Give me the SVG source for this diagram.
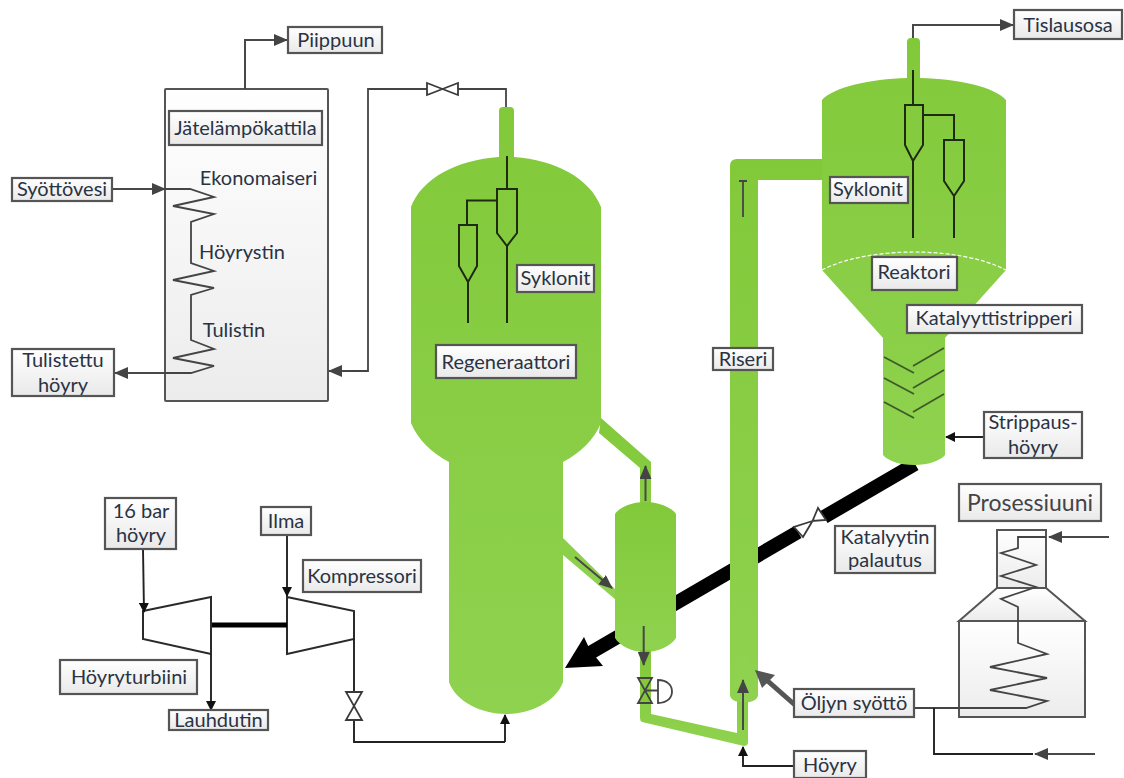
<svg xmlns="http://www.w3.org/2000/svg" width="1124" height="778" viewBox="0 0 1124 778">
<style>
text{font-family:"Lato","Liberation Sans",sans-serif;font-size:20px;fill:#2a3344;text-anchor:middle}
.lab{fill:url(#box);stroke:#555;stroke-width:2.2}
.vessel{fill:url(#green)}
.equip{fill:url(#equip);stroke:#555;stroke-width:2}
.ln{fill:none;stroke:#444;stroke-width:1.8}
.blk{fill:none;stroke:#222;stroke-width:1.9}
.cyc{fill:none;stroke:#1f2a12;stroke-width:2}
.ar{fill:none;stroke:#484848;stroke-width:2;marker-end:url(#head)}
.arb{fill:none;stroke:#222;stroke-width:1.9;marker-end:url(#headb)}
.vlv{fill:#fff;stroke:#3a3a3a;stroke-width:1.8}
</style>
<defs>
<linearGradient id="box" x1="0" y1="0" x2="0" y2="1"><stop offset="0" stop-color="#fff"/><stop offset="1" stop-color="#e9e9e9"/></linearGradient>
<linearGradient id="equip" x1="0" y1="0" x2="0" y2="1"><stop offset="0" stop-color="#fff"/><stop offset="1" stop-color="#ececec"/></linearGradient>
<linearGradient id="green" x1="0" y1="0" x2="0" y2="1"><stop offset="0" stop-color="#82c93a"/><stop offset="1" stop-color="#8fd24f"/></linearGradient>
<marker id="head" viewBox="0 0 14 12" refX="13" refY="6" markerWidth="14" markerHeight="12" markerUnits="userSpaceOnUse" orient="auto"><path d="M0 0L14 6L0 12Z" fill="#444"/></marker>
<marker id="headb" viewBox="0 0 10 10" refX="9" refY="5" markerWidth="10" markerHeight="10" markerUnits="userSpaceOnUse" orient="auto"><path d="M0 0L10 5L0 10Z" fill="#111"/></marker>
</defs>

<g id="vessels">
<path id="catalyst-return" d="M915 464L824 517M798 532L578 660" fill="none" stroke="#000" stroke-width="14"/>
<path d="M565 668L584 637L590 650L603 666Z" fill="#000"/>
<path id="regenerator" class="vessel" d="M499 157V111Q499 107 503 107H510Q514 107 514 111V157C555 160 590 178 601 207V423C594 440 580 453 563 462V682C556 702 530 714 506 714C482 714 456 702 449 682V462C432 453 418 440 411 423V207C422 178 457 160 499 157Z"/>
<path id="standpipes" class="vessel" d="M601 418L651 462V505H640V468L599 433ZM563 538L616 590V600L563 555Z"/>
<path id="stripper-vessel" class="vessel" d="M615 514C620 507 632 502 645 502C658 502 671 507 676 514V638C671 646 658 652 645 652C632 652 620 646 615 638Z"/>
<path id="lift-line" class="vessel" d="M640 650H651V714L737 733V690H748V742Q748 746 744 746L642 722Q640 721 640 718Z"/>
<path id="riser" class="vessel" d="M730 695V166Q730 159 737 159H826Q832 159 832 170Q832 180 826 180H758V695Q758 700 750 702H738Q730 700 730 695Z"/>
<rect x="737" y="655" width="12" height="46" rx="4" fill="#8fd24f"/>
<path id="reactor" class="vessel" d="M907 78V42Q907 38 911 38H916Q920 38 920 42V78C960 79 994 87 1006 100V270L945 338V455C940 461 928 465 914 465C900 465 888 461 883 455V338L822 270V100C834 87 870 79 907 78Z"/>
<path d="M822 270C845 258 880 252 914 252C948 252 983 258 1006 270" fill="none" stroke="#fff" stroke-width="1.2" stroke-dasharray="4 2"/>
</g>

<g id="catalyst-valve">
<path class="vlv" d="M812.500 521L794 527L803 537ZM812.500 521L818 508L826 520Z"/>
</g>

<g id="boiler">
<rect class="equip" x="165" y="89" width="163" height="312" rx="1"/>
<path class="ln" d="M165 189H190L214 197L173 206L214 214L191 222V263L214 271L173 280L214 288L191 295V340L214 349L173 358L214 366L191 373H165"/>
</g>

<g id="furnace">
<path class="equip" d="M997 588H1046L1085 621H959Z"/>
<rect class="equip" x="959" y="621" width="126" height="96"/>
<rect class="equip" x="997" y="530" width="49" height="58"/>
<path class="ln" d="M1046 537H1018V548L1001 553L1036 565L1001 576L1036 587L1001 599L1018 607V643L1047 654L990 667L1047 678L990 690L1047 701L1026 708H914"/>
</g>

<g id="turbine">
<path d="M143 611L211 597V654L143 639Z" fill="#fff" stroke="#2a2a2a" stroke-width="2"/>
</g>
<g id="compressor">
<path d="M287 597L354 611V639L287 654Z" fill="#fff" stroke="#2a2a2a" stroke-width="2"/>
</g>

<g id="connectors">
<path d="M212 625H287" fill="none" stroke="#000" stroke-width="5"/>
<path class="ar" d="M245 89V40H287"/>
<path class="ar" d="M112 189H165"/>
<path class="ar" d="M165 373H115"/>
<path class="ln" d="M506 107V89H458M427 89H368V371H340"/>
<path class="ar" d="M345 371H329"/>
<path class="ar" d="M913 38V25H1013"/>
<path class="arb" d="M143 549L144 612"/>
<path class="arb" d="M287 535V596"/>
<path class="arb" d="M211 654V710"/>
<path class="blk" d="M354 639V692M354 720V742H505"/>
<path class="arb" d="M505 742V715"/>
<path class="ar" d="M645.500 501V466"/>
<path class="ar" d="M575 557L612 588"/>
<path class="ar" d="M643.700 626V665"/>
<path class="ln" d="M743 217V181"/>
<path d="M739 181H747" stroke="#444" stroke-width="2"/>
<path class="ar" d="M743 730V680"/>
<path class="arb" d="M794 766H743V747"/>
<path d="M795 705L761 675" fill="none" stroke="#555" stroke-width="5"/>
<path d="M755 670L775 675L762 688Z" fill="#555"/>
<path class="arb" d="M984 437H946" stroke-width="2.6"/>
<path class="ar" d="M1109 537H1049"/>
<path class="blk" d="M934 708V754H1033"/>
<path class="ar" d="M1095 754H1035"/>
</g>

<g id="valves">
<path class="vlv" d="M427 83L458 95V83L427 95Z"/>
<path class="vlv" d="M346 692H362L346 720H362Z"/>
<path d="M638 678H652L638 703H652Z" fill="#84c93a" stroke="#444" stroke-width="1.8"/>
<path d="M645 690.500H658M658 680C667 680 672 685 672 691.500C672 698 667 703 658 703Z" fill="none" stroke="#444" stroke-width="1.8"/>
</g>

<g id="cyclones">
<path class="cyc" d="M507 156V189M497 189H517V233L507 246L497 233ZM507 246V323M497 200.500H467V225M459 225H477V266L468 282L459 266ZM468 282V323"/>
<path class="cyc" d="M913 70V105M905 105H923V145L913 161L905 145ZM913 161V238M923 115H954V140M944 140H964V181L954 196L944 181ZM954 196V238"/>
<path d="M884 357L914 373M913 366L944 348M884 378L914 394M913 388L944 370M884 402L914 418M913 412L944 394" fill="none" stroke="#3f5a2a" stroke-width="1.8"/>
</g>

<g id="piippuun"><rect class="lab" x="288" y="27" width="94" height="26"/><text x="336" y="47">Piippuun</text></g>
<g id="jatelampokattila"><rect class="lab" x="169" y="111" width="153" height="34"/><text x="245.500" y="135">Jätelämpökattila</text></g>
<g id="syottovesi"><rect class="lab" x="12" y="178" width="100" height="23"/><text x="62" y="196">Syöttövesi</text></g>
<g id="tulistettu"><rect class="lab" x="12" y="349" width="102" height="47"/><text x="63" y="367">Tulistettu</text><text x="63" y="392">höyry</text></g>
<g id="ekonomaiseri"><text x="258.500" y="185">Ekonomaiseri</text></g>
<g id="hoyrystin"><text x="242" y="259">Höyrystin</text></g>
<g id="tulistin"><text x="234" y="337">Tulistin</text></g>
<g id="syklonit-reg"><rect class="lab" x="517" y="265" width="77" height="27"/><text x="555.500" y="285">Syklonit</text></g>
<g id="regeneraattori"><rect class="lab" x="436" y="345" width="140" height="33"/><text x="506" y="369">Regeneraattori</text></g>
<g id="riseri-label"><rect class="lab" x="713" y="348" width="60" height="22"/><text x="743" y="366">Riseri</text></g>
<g id="tislausosa"><rect class="lab" x="1014" y="10" width="108" height="29"/><text x="1068" y="32">Tislausosa</text></g>
<g id="syklonit-reak"><rect class="lab" x="830" y="177" width="78" height="26"/><text x="868" y="196">Syklonit</text></g>
<g id="reaktori"><rect class="lab" x="872" y="257" width="85" height="33"/><text x="914" y="279">Reaktori</text></g>
<g id="katalyyttistripperi"><rect class="lab" x="907" y="305" width="175" height="28"/><text x="994" y="325">Katalyyttistripperi</text></g>
<g id="strippaushoyry"><rect class="lab" x="984" y="412" width="98" height="46"/><text x="1033" y="429">Strippaus-</text><text x="1033" y="454">höyry</text></g>
<g id="katalyytin-palautus"><rect class="lab" x="835" y="526" width="100" height="47"/><text x="885" y="544">Katalyytin</text><text x="885" y="567">palautus</text></g>
<g id="prosessiuuni"><rect class="lab" x="959" y="484" width="142" height="37"/><text x="1030" y="511" style="font-size:23px;fill:#444">Prosessiuuni</text></g>
<g id="oljyn-syotto"><rect class="lab" x="794" y="689" width="120" height="28"/><text x="854" y="710">Öljyn syöttö</text></g>
<g id="hoyry"><rect class="lab" x="794" y="751" width="72" height="27"/><text x="830" y="772">Höyry</text></g>
<g id="bar16"><rect class="lab" x="105" y="498" width="71" height="51"/><text x="141" y="518">16 bar</text><text x="141" y="542">höyry</text></g>
<g id="ilma"><rect class="lab" x="261" y="507" width="50" height="28"/><text x="286" y="528">Ilma</text></g>
<g id="kompressori"><rect class="lab" x="303" y="560" width="118" height="32"/><text x="362" y="583">Kompressori</text></g>
<g id="hoyryturbiini"><rect class="lab" x="60" y="660" width="137" height="34"/><text x="129" y="684">Höyryturbiini</text></g>
<g id="lauhdutin"><rect class="lab" x="169" y="710" width="99" height="20"/><text x="218.500" y="727">Lauhdutin</text></g>
</svg>
